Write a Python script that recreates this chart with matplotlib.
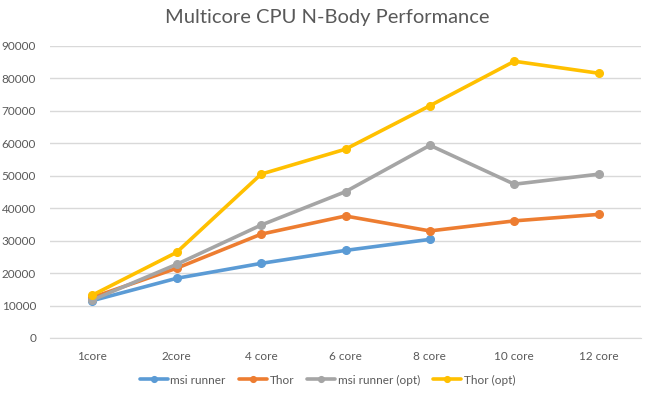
import matplotlib.pyplot as plt

# data
categories = ["1core", "2core", "4 core", "6 core", "8 core", "10 core", "12 core"]
msi_runner = [11500, 18400, 23000, 27000, 30400, None, None]
thor = [12500, 21500, 32000, 37600, 33000, 36100, 38100]
msi_runner_opt = [11700, 22700, 34800, 45100, 59400, 47400, 50500]
thor_opt = [13200, 26400, 50500, 58200, 71600, 85300, 81600]

series_names = ["msi runner", "Thor", "msi runner (opt)", "Thor (opt)"]
series_values = [msi_runner, thor, msi_runner_opt, thor_opt]
colors = ["#5B9BD5", "#ED7D31", "#A5A5A5", "#FFC000"]

plt.rcParams["font.family"] = ["Lato", "DejaVu Sans"]

fig = plt.figure(figsize=(6.55, 3.97), dpi=100)
ax = fig.add_axes([50 / 655, 1 - 338 / 397, 591 / 655, 292 / 397])

x = list(range(len(categories)))
for name, vals, c in zip(series_names, series_values, colors):
    xs = [i for i, v in zip(x, vals) if v is not None]
    ys = [v for v in vals if v is not None]
    ax.plot(xs, ys, color=c, linewidth=2.6, marker="o", markersize=5.5,
            label=name, solid_capstyle="round")

ax.set_xlim(-0.5, len(categories) - 0.5)
ax.set_ylim(0, 90000)
ax.set_yticks(range(0, 90001, 10000))
ax.set_xticks(x)
ax.set_xticklabels(categories)
ax.yaxis.grid(True, color="#D9D9D9", linewidth=1)
ax.set_axisbelow(True)
for s in ["top", "right", "left"]:
    ax.spines[s].set_visible(False)
ax.spines["bottom"].set_color("#D9D9D9")
ax.tick_params(length=0, colors="#595959", labelsize=8.5)
ax.tick_params(axis="x", pad=9)
ax.tick_params(axis="y", pad=10)

fig.suptitle("Multicore CPU N-Body Performance", x=0.5, y=0.978,
             fontsize=14.5, color="#595959")

fig.legend(loc="center", bbox_to_anchor=(0.5, 1 - 380 / 397), ncol=4,
           frameon=False, fontsize=8.5, labelcolor="#595959",
           handlelength=2.4, columnspacing=1.1, handletextpad=0.2,
           markerscale=0.75)

plt.savefig("out.png", dpi=100)
plt.close()
